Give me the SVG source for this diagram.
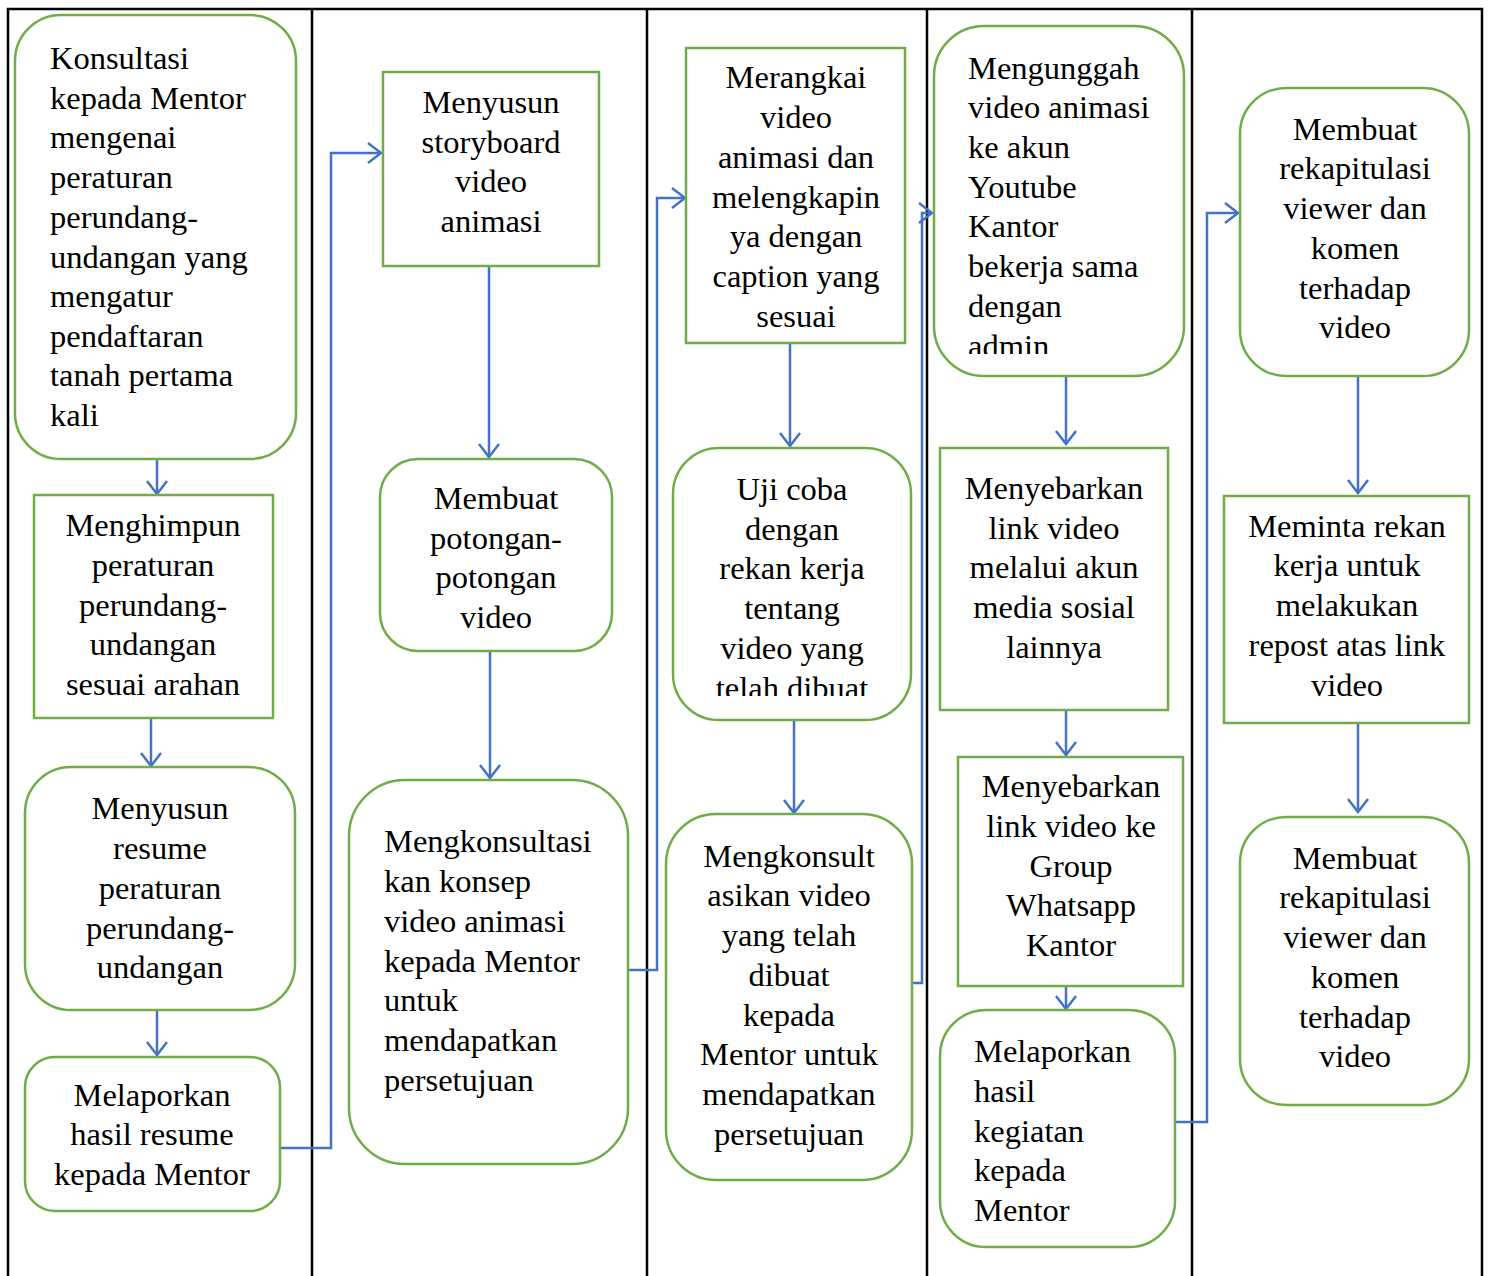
<svg xmlns="http://www.w3.org/2000/svg" width="1488" height="1276" viewBox="0 0 1488 1276">
<style>
.n{fill:#fff;stroke:#70AD47;stroke-width:2.5}
.g{stroke:#000;stroke-width:2.5;fill:none}
.c{fill:none;stroke:#4472C4;stroke-width:2.5}
text{font-family:"Liberation Serif","Times New Roman",serif;font-size:32.5px;fill:#000}
.m{text-anchor:middle}
</style>
<defs>
<marker id="ah" markerWidth="16" markerHeight="24" refX="14" refY="11" orient="auto" markerUnits="userSpaceOnUse">
<path d="M1,1 L14,11 L1,21" fill="none" stroke="#4472C4" stroke-width="2.5"/>
</marker>
<clipPath id="cl9"><rect x="673" y="448" width="238" height="248"/></clipPath>
<clipPath id="cl11"><rect x="934" y="26" width="250" height="328"/></clipPath>
</defs>
<rect width="1488" height="1276" fill="#fff"/>
<g id="grid">
<path class="g" d="M8,1276 V9 H1482 V1276 M312,9 V1276 M647,9 V1276 M927,9 V1276 M1192,9 V1276"/>
</g>
<g id="connectors">
<path class="c" marker-end="url(#ah)" d="M157,459 V494"/>
<path class="c" marker-end="url(#ah)" d="M151,718 V766"/>
<path class="c" marker-end="url(#ah)" d="M157,1010 V1055"/>
<path class="c" marker-end="url(#ah)" d="M280,1148 H331 V153 H381"/>
<path class="c" marker-end="url(#ah)" d="M489,266 V457"/>
<path class="c" marker-end="url(#ah)" d="M490,651 V778"/>
<path class="c" marker-end="url(#ah)" d="M628,970 H657 V198 H685"/>
<path class="c" marker-end="url(#ah)" d="M790,343 V446"/>
<path class="c" marker-end="url(#ah)" d="M794,720 V813"/>
<path class="c" marker-end="url(#ah)" d="M912,983 H922 V213 H932"/>
<path class="c" marker-end="url(#ah)" d="M1066,376 V444"/>
<path class="c" marker-end="url(#ah)" d="M1066,710 V755"/>
<path class="c" marker-end="url(#ah)" d="M1066,986 V1009"/>
<path class="c" marker-end="url(#ah)" d="M1175,1122 H1207 V213 H1238"/>
<path class="c" marker-end="url(#ah)" d="M1358,376 V493"/>
<path class="c" marker-end="url(#ah)" d="M1358,723 V812"/>
</g>
<g id="n1">
<rect class="n" x="15" y="15" width="281" height="444" rx="46"/>
<text x="50" y="69">Konsultasi</text>
<text x="50" y="109">kepada Mentor</text>
<text x="50" y="148">mengenai</text>
<text x="50" y="188">peraturan</text>
<text x="50" y="228">perundang-</text>
<text x="50" y="268">undangan yang</text>
<text x="50" y="307">mengatur</text>
<text x="50" y="347">pendaftaran</text>
<text x="50" y="386">tanah pertama</text>
<text x="50" y="426">kali</text>
</g>
<g id="n2">
<rect class="n" x="34" y="495" width="239" height="223"/>
<text class="m" x="153" y="536">Menghimpun</text>
<text class="m" x="153" y="576">peraturan</text>
<text class="m" x="153" y="616">perundang-</text>
<text class="m" x="153" y="655">undangan</text>
<text class="m" x="153" y="695">sesuai arahan</text>
</g>
<g id="n3">
<rect class="n" x="25" y="767" width="270" height="243" rx="46"/>
<text class="m" x="160" y="819">Menyusun</text>
<text class="m" x="160" y="859">resume</text>
<text class="m" x="160" y="899">peraturan</text>
<text class="m" x="160" y="939">perundang-</text>
<text class="m" x="160" y="978">undangan</text>
</g>
<g id="n4">
<rect class="n" x="25" y="1057" width="255" height="154" rx="30"/>
<text class="m" x="152" y="1106">Melaporkan</text>
<text class="m" x="152" y="1145">hasil resume</text>
<text class="m" x="152" y="1185">kepada Mentor</text>
</g>
<g id="n5">
<rect class="n" x="383" y="72" width="216" height="194"/>
<text class="m" x="491" y="113">Menyusun</text>
<text class="m" x="491" y="153">storyboard</text>
<text class="m" x="491" y="192">video</text>
<text class="m" x="491" y="232">animasi</text>
</g>
<g id="n6">
<rect class="n" x="380" y="459" width="232" height="192" rx="38"/>
<text class="m" x="496" y="509">Membuat</text>
<text class="m" x="496" y="549">potongan-</text>
<text class="m" x="496" y="588">potongan</text>
<text class="m" x="496" y="628">video</text>
</g>
<g id="n7">
<rect class="n" x="349" y="780" width="279" height="384" rx="56"/>
<text x="384" y="852">Mengkonsultasi</text>
<text x="384" y="892">kan konsep</text>
<text x="384" y="932">video animasi</text>
<text x="384" y="972">kepada Mentor</text>
<text x="384" y="1011">untuk</text>
<text x="384" y="1051">mendapatkan</text>
<text x="384" y="1091">persetujuan</text>
</g>
<g id="n8">
<rect class="n" x="686" y="48" width="219" height="295"/>
<text class="m" x="796" y="88">Merangkai</text>
<text class="m" x="796" y="128">video</text>
<text class="m" x="796" y="168">animasi dan</text>
<text class="m" x="796" y="208">melengkapin</text>
<text class="m" x="796" y="247">ya dengan</text>
<text class="m" x="796" y="287">caption yang</text>
<text class="m" x="796" y="327">sesuai</text>
</g>
<g id="n9">
<rect class="n" x="673" y="448" width="238" height="272" rx="46"/>
<g clip-path="url(#cl9)">
<text class="m" x="792" y="500">Uji coba</text>
<text class="m" x="792" y="540">dengan</text>
<text class="m" x="792" y="579">rekan kerja</text>
<text class="m" x="792" y="619">tentang</text>
<text class="m" x="792" y="659">video yang</text>
<text class="m" x="792" y="699">telah dibuat</text>
</g>
</g>
<g id="n10">
<rect class="n" x="666" y="814" width="246" height="366" rx="50"/>
<text class="m" x="789" y="867">Mengkonsult</text>
<text class="m" x="789" y="906">asikan video</text>
<text class="m" x="789" y="946">yang telah</text>
<text class="m" x="789" y="986">dibuat</text>
<text class="m" x="789" y="1026">kepada</text>
<text class="m" x="789" y="1065">Mentor untuk</text>
<text class="m" x="789" y="1105">mendapatkan</text>
<text class="m" x="789" y="1145">persetujuan</text>
</g>
<g id="n11">
<rect class="n" x="934" y="26" width="250" height="350" rx="50"/>
<g clip-path="url(#cl11)">
<text x="968" y="79">Mengunggah</text>
<text x="968" y="118">video animasi</text>
<text x="968" y="158">ke akun</text>
<text x="968" y="198">Youtube</text>
<text x="968" y="237">Kantor</text>
<text x="968" y="277">bekerja sama</text>
<text x="968" y="317">dengan</text>
<text x="968" y="357">admin</text>
</g>
</g>
<g id="n12">
<rect class="n" x="940" y="448" width="228" height="262"/>
<text class="m" x="1054" y="499">Menyebarkan</text>
<text class="m" x="1054" y="539">link video</text>
<text class="m" x="1054" y="578">melalui akun</text>
<text class="m" x="1054" y="618">media sosial</text>
<text class="m" x="1054" y="658">lainnya</text>
</g>
<g id="n13">
<rect class="n" x="958" y="757" width="225" height="229"/>
<text class="m" x="1071" y="797">Menyebarkan</text>
<text class="m" x="1071" y="837">link video ke</text>
<text class="m" x="1071" y="877">Group</text>
<text class="m" x="1071" y="916">Whatsapp</text>
<text class="m" x="1071" y="956">Kantor</text>
</g>
<g id="n14">
<rect class="n" x="940" y="1010" width="235" height="237" rx="46"/>
<text x="974" y="1062">Melaporkan</text>
<text x="974" y="1102">hasil</text>
<text x="974" y="1142">kegiatan</text>
<text x="974" y="1181">kepada</text>
<text x="974" y="1221">Mentor</text>
</g>
<g id="n15">
<rect class="n" x="1240" y="88" width="229" height="288" rx="46"/>
<text class="m" x="1355" y="140">Membuat</text>
<text class="m" x="1355" y="179">rekapitulasi</text>
<text class="m" x="1355" y="219">viewer dan</text>
<text class="m" x="1355" y="259">komen</text>
<text class="m" x="1355" y="299">terhadap</text>
<text class="m" x="1355" y="338">video</text>
</g>
<g id="n16">
<rect class="n" x="1224" y="496" width="245" height="227"/>
<text class="m" x="1347" y="537">Meminta rekan</text>
<text class="m" x="1347" y="576">kerja untuk</text>
<text class="m" x="1347" y="616">melakukan</text>
<text class="m" x="1347" y="656">repost atas link</text>
<text class="m" x="1347" y="696">video</text>
</g>
<g id="n17">
<rect class="n" x="1240" y="817" width="229" height="288" rx="46"/>
<text class="m" x="1355" y="869">Membuat</text>
<text class="m" x="1355" y="908">rekapitulasi</text>
<text class="m" x="1355" y="948">viewer dan</text>
<text class="m" x="1355" y="988">komen</text>
<text class="m" x="1355" y="1028">terhadap</text>
<text class="m" x="1355" y="1067">video</text>
</g>
</svg>
